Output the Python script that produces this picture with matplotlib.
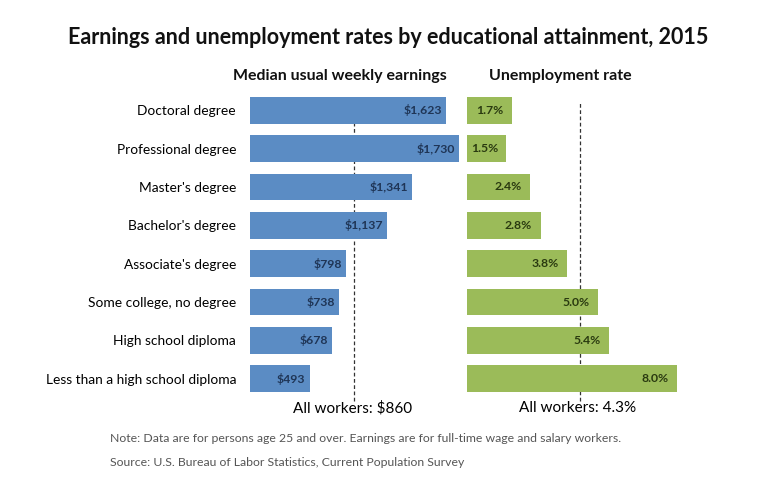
import matplotlib.pyplot as plt

plt.rcParams['font.family'] = ['Lato', 'DejaVu Sans']

categories = ["Doctoral degree", "Professional degree", "Master's degree",
              "Bachelor's degree", "Associate's degree", "Some college, no degree",
              "High school diploma", "Less than a high school diploma"]
earnings = [1623, 1730, 1341, 1137, 798, 738, 678, 493]
earn_labels = ["$1,623", "$1,730", "$1,341", "$1,137", "$798", "$738", "$678", "$493"]
unemployment = [1.7, 1.5, 2.4, 2.8, 3.8, 5.0, 5.4, 8.0]
unemp_labels = ["1.7%", "1.5%", "2.4%", "2.8%", "3.8%", "5.0%", "5.4%", "8.0%"]
all_earn = 860
all_unemp = 4.3

W, H = 768, 499
fig = plt.figure(figsize=(W / 100, H / 100), dpi=100)

bottom = 1 - 398 / H
height = 307 / H
ax1 = fig.add_axes([250 / W, bottom, 220 / W, height])
ax2 = fig.add_axes([467 / W, bottom, 223 / W, height])

ypos = list(range(len(categories)))

# earnings panel
ax1.barh(ypos, earnings, height=0.7, color='#5b8cc4', zorder=2)
ax1.axvline(all_earn, ymin=-0.01, ymax=0.975, color='#333333', ls=(0, (3, 2)), lw=0.9,
            zorder=1, clip_on=False)
ax1.set_xlim(0, 220 / 0.1208)
for y, v, lab in zip(ypos, earnings, earn_labels):
    ax1.annotate(lab, (v, y), xytext=(-3, 0), textcoords='offset points',
                 ha='right', va='center', fontsize=8.8, fontweight='bold', color='#1f3556')
ax1.set_yticks(ypos)
ax1.set_yticklabels(categories, fontsize=9.9)
ax1.tick_params(axis='y', length=0, pad=10)

# unemployment panel
ax2.barh(ypos, unemployment, height=0.7, color='#9bbb59', zorder=2)
ax2.axvline(all_unemp, ymin=-0.01, ymax=0.965, color='#333333', ls=(0, (3, 2)), lw=0.9,
            zorder=1, clip_on=False)
ax2.set_xlim(0, 223 / 26.25)
for y, v, lab in zip(ypos, unemployment, unemp_labels):
    ax2.annotate(lab, (v, y), xytext=(-6, 0), textcoords='offset points',
                 ha='right', va='center', fontsize=8.8, fontweight='bold', color='#2a3a10')
ax2.set_yticks([])

for ax in (ax1, ax2):
    ax.set_ylim(len(categories) - 0.5, -0.5)
    ax.set_xticks([])
    for s in ax.spines.values():
        s.set_visible(False)
    ax.patch.set_alpha(0)

fig.text(388 / W, 1 - 38 / H, "Earnings and unemployment rates by educational attainment, 2015",
         ha='center', va='center', fontsize=15.5, fontweight='bold', color='#111111')
fig.text(340 / W, 1 - 76 / H, "Median usual weekly earnings", ha='center', va='center',
         fontsize=11.5, fontweight='bold', color='#111111')
fig.text(560 / W, 1 - 76 / H, "Unemployment rate", ha='center', va='center',
         fontsize=11.5, fontweight='bold', color='#111111')
fig.text(353 / W, 1 - 408 / H, "All workers: $860", ha='center', va='center', fontsize=11)
fig.text(578 / W, 1 - 408 / H, "All workers: 4.3%", ha='center', va='center', fontsize=11)
fig.text(110 / W, 1 - 439 / H,
         "Note: Data are for persons age 25 and over. Earnings are for full-time wage and salary workers.",
         ha='left', va='center', fontsize=8.8, color='#555555')
fig.text(110 / W, 1 - 462 / H, "Source: U.S. Bureau of Labor Statistics, Current Population Survey",
         ha='left', va='center', fontsize=8.8, color='#555555')

fig.savefig('out.png', dpi=100)
